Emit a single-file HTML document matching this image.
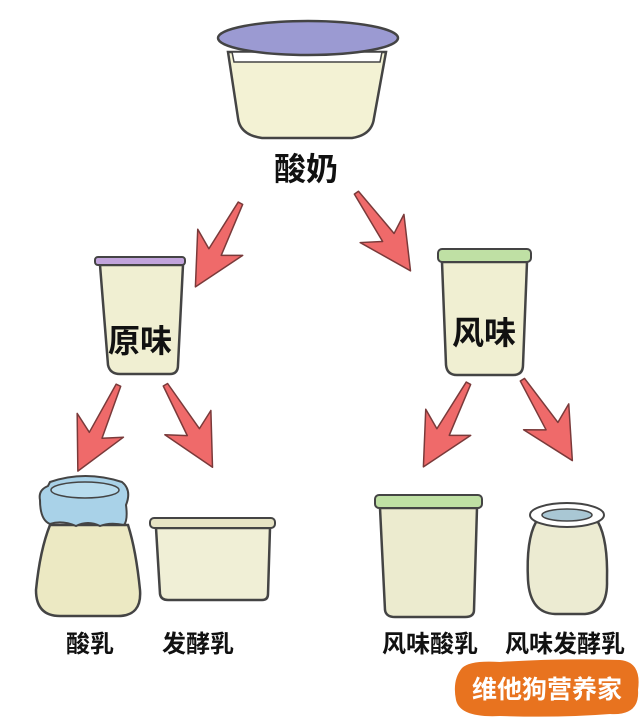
<!DOCTYPE html>
<html><head><meta charset="utf-8"><style>
html,body{margin:0;padding:0;background:#fff;}
svg{display:block}
text{font-family:"Liberation Sans","Noto Sans CJK SC",sans-serif;font-weight:bold;}
</style></head><body>
<svg width="640" height="727" viewBox="0 0 640 727" xmlns="http://www.w3.org/2000/svg">
<defs>
<g id="arr"><path d="M-2,0 L3,0 L8,55 L27,45 L0,95 L-25,43 L-6,55 Z" fill="#ef6a6a" stroke="#7a3a3a" stroke-width="1.5" stroke-linejoin="round"/></g>
</defs>
<!-- top bowl -->
<path d="M228,52 L238,118 Q240,135 262,138 L352,138 Q372,135 374,118 L386,52 Z" fill="#f3f2d4" stroke="#444" stroke-width="2.5"/>
<path d="M232,52 L382,52 L380,62 L234,62 Z" fill="#fff" stroke="#444" stroke-width="1.5"/>
<ellipse cx="308" cy="38" rx="90" ry="17" fill="#9b9ad2" stroke="#444" stroke-width="2.5"/>
<text x="306" y="180" font-size="32" text-anchor="middle" fill="#111">酸奶</text>
<!-- arrows level 1 -->
<use href="#arr" transform="translate(240,203) rotate(28)"/>
<use href="#arr" transform="translate(356,193) rotate(-35)"/>
<!-- left jar -->
<path d="M100,265 L108,365 Q110,374 120,374 L170,374 Q178,374 178,365 L183,265 Z" fill="#f0efd2" stroke="#444" stroke-width="2.5"/>
<rect x="95" y="257" width="90" height="8" rx="3" fill="#c2a4dc" stroke="#444" stroke-width="2"/>
<text x="140" y="352" font-size="32" text-anchor="middle" fill="#111">原味</text>
<!-- right jar -->
<path d="M442,262 L446,365 Q447,375 457,375 L513,375 Q523,375 523,365 L527,262 Z" fill="#f0efd2" stroke="#444" stroke-width="2.5"/>
<rect x="438" y="249" width="93" height="13" rx="4" fill="#bfe0a4" stroke="#444" stroke-width="2"/>
<text x="484" y="344" font-size="32" text-anchor="middle" fill="#111">风味</text>
<!-- arrows level 2 -->
<use href="#arr" transform="translate(118,385) rotate(25)"/>
<use href="#arr" transform="translate(165,385) rotate(-30)"/>
<use href="#arr" transform="translate(468,383) rotate(28)"/>
<use href="#arr" transform="translate(522,380) rotate(-32)"/>
<!-- bottom jar1 -->
<path d="M50,525 Q40,550 36,590 Q36,616 60,616 L118,616 Q142,616 140,590 Q136,550 128,525 Z" fill="#ece9c3" stroke="#444" stroke-width="2.5"/>
<path d="M40,500 Q38,490 48,486 L50,482 Q85,470 122,482 Q132,490 126,505 Q128,520 124,525 Q110,522 100,526 Q88,520 76,526 Q62,520 50,524 Q40,520 40,500 Z" fill="#a9d2e8" stroke="#444" stroke-width="2"/>
<ellipse cx="85" cy="490" rx="34" ry="8" fill="#b8dcee" stroke="#444" stroke-width="1.5"/>
<!-- box2 -->
<path d="M156,528 L160,594 Q161,600 168,600 L262,600 Q268,600 268,594 L270,528 Z" fill="#f0efd6" stroke="#444" stroke-width="2.5"/>
<rect x="150" y="518" width="125" height="10" rx="4" fill="#e6e3c4" stroke="#444" stroke-width="2"/>
<!-- jar3 -->
<path d="M380,508 L385,610 Q386,617 395,617 L465,617 Q474,617 474,610 L477,508 Z" fill="#ecebcf" stroke="#444" stroke-width="2.5"/>
<rect x="375" y="495" width="107" height="13" rx="4" fill="#bfe0a4" stroke="#444" stroke-width="2"/>
<!-- jar4 -->
<path d="M536,522 Q526,540 528,580 Q530,613 555,614 L585,614 Q608,612 607,580 Q608,540 598,522 Z" fill="#ecebd2" stroke="#444" stroke-width="2.5"/>
<ellipse cx="567" cy="515" rx="37" ry="12" fill="#fff" stroke="#444" stroke-width="2"/>
<ellipse cx="567" cy="515" rx="25" ry="6" fill="#a9c7d4" stroke="#444" stroke-width="1.5"/>
<!-- labels -->
<text x="90" y="652" font-size="24" text-anchor="middle" fill="#111">酸乳</text>
<text x="198" y="652" font-size="24" text-anchor="middle" fill="#111">发酵乳</text>
<text x="430" y="652" font-size="24" text-anchor="middle" fill="#111">风味酸乳</text>
<text x="565" y="652" font-size="24" text-anchor="middle" fill="#111">风味发酵乳</text>
<!-- badge -->
<path d="M462,668 Q470,660 500,662 Q560,658 620,660 Q642,662 638,690 Q640,716 610,714 Q560,718 500,716 Q460,718 456,700 Q452,680 462,668 Z" fill="#e8731f"/>
<text x="547" y="698" font-size="25" text-anchor="middle" fill="#fff">维他狗营养家</text>
</svg>
</body></html>
